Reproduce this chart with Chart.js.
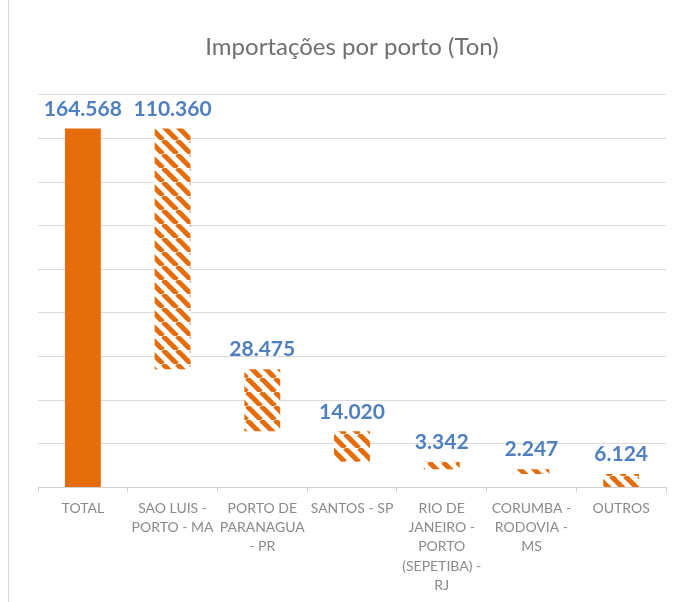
<!DOCTYPE html>
<html>
<head>
<meta charset="utf-8">
<script src="https://cdn.jsdelivr.net/npm/chart.js@4"></script>
<style>
  html, body { margin: 0; padding: 0; background: #fff; }
  #wrap { position: absolute; left: 8px; top: 0; width: 678px; height: 602px; border-left: 1px solid #d9d9d9; }
</style>
</head>
<body>
<div id="wrap"><canvas id="portChart" width="678" height="602"></canvas></div>
<script>
// categories (multi-line, as wrapped on the axis)
const categories = [
  ['TOTAL'],
  ['SAO LUIS -', 'PORTO - MA'],
  ['PORTO DE', 'PARANAGUA', '- PR'],
  ['SANTOS - SP'],
  ['RIO DE', 'JANEIRO -', 'PORTO', '(SEPETIBA) -', 'RJ'],
  ['CORUMBA -', 'RODOVIA -', 'MS'],
  ['OUTROS']
];
// tonnes per port; first entry is the total
const values = [164568, 110360, 28475, 14020, 3342, 2247, 6124];
const labelText = ['164.568', '110.360', '28.475', '14.020', '3.342', '2.247', '6.124'];

const ORANGE = '#e46c0a';

// waterfall ranges: total bar from 0, then each port steps down
let running = values[0];
const ranges = values.map((v, i) => {
  if (i === 0) return [0, v];
  const top = running;
  running -= v;
  return [running, top];
});

// diagonal stripe fill for the port bars
function stripePattern() {
  const s = 14;
  const c = document.createElement('canvas');
  c.width = s; c.height = s;
  const g = c.getContext('2d');
  g.fillStyle = '#fff';
  g.fillRect(0, 0, s, s);
  g.strokeStyle = ORANGE;
  g.lineWidth = 5;
  [-s, 0, s].forEach(off => {
    g.beginPath();
    g.moveTo(off, 0);
    g.lineTo(off + s, s);
    g.stroke();
  });
  return g.createPattern(c, 'repeat');
}
const stripes = stripePattern();

// value labels above each bar
const valueLabels = {
  id: 'valueLabels',
  afterDatasetsDraw(chart) {
    const ctx = chart.ctx;
    const meta = chart.getDatasetMeta(0);
    ctx.save();
    ctx.font = 'bold 21px Lato';
    ctx.fillStyle = '#4f7fbf';
    ctx.textAlign = 'center';
    ctx.textBaseline = 'bottom';
    meta.data.forEach((bar, i) => {
      ctx.fillText(labelText[i], bar.x, Math.min(bar.y, bar.base) - 9);
    });
    ctx.restore();
  }
};

new Chart(document.getElementById('portChart').getContext('2d'), {
  type: 'bar',
  data: {
    labels: categories,
    datasets: [{
      data: ranges,
      backgroundColor: ranges.map((r, i) => i === 0 ? ORANGE : stripes),
      borderWidth: 0,
      barPercentage: 0.4,
      categoryPercentage: 1
    }]
  },
  options: {
    responsive: false,
    animation: false,
    layout: { padding: { left: 29, right: 21, bottom: 1 } },
    plugins: {
      legend: { display: false },
      tooltip: { enabled: false },
      title: {
        display: true,
        text: 'Importações por porto (Ton)',
        color: '#707070',
        font: { family: 'Lato', size: 24, weight: 'normal' },
        padding: { top: 33, bottom: 33 }
      }
    },
    scales: {
      x: {
        grid: { display: true, drawOnChartArea: false, drawTicks: true, tickLength: 5, color: '#d0d0d0', offset: true },
        border: { color: '#d0d0d0', width: 1 },
        ticks: {
          color: '#8a8a8a',
          font: { family: 'Lato', size: 14, lineHeight: 1.38 },
          padding: 6,
          maxRotation: 0,
          autoSkip: false
        }
      },
      y: {
        min: 0,
        max: 180000,
        ticks: { display: false, stepSize: 20000 },
        grid: { color: '#dadada', drawTicks: false },
        border: { display: false }
      }
    }
  },
  plugins: [valueLabels]
});
</script>
</body>
</html>
